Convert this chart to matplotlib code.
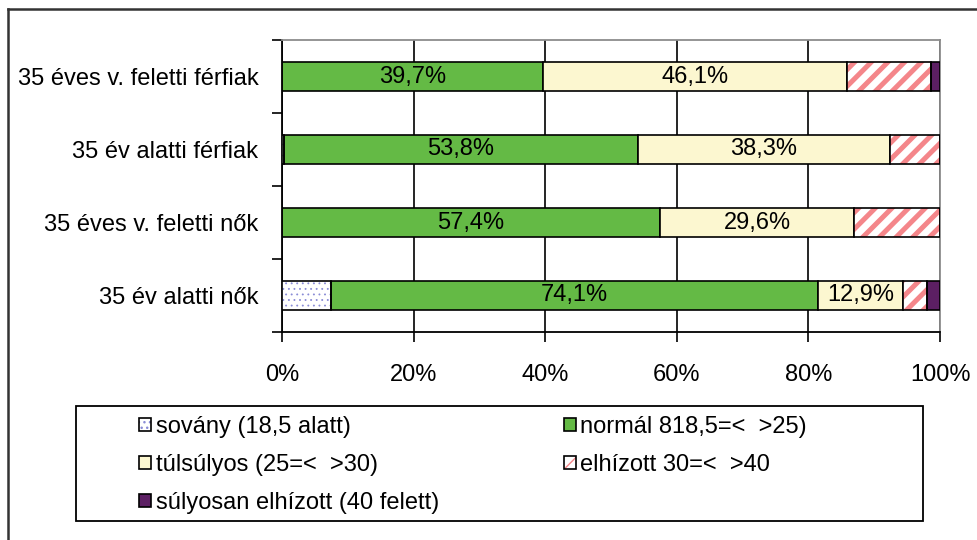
import matplotlib
matplotlib.use('Agg')
import matplotlib.pyplot as plt
from matplotlib import font_manager
from matplotlib.patches import Patch, Rectangle
from matplotlib.lines import Line2D

# Data (rows listed top to bottom as in the chart)
categories = ['35 éves v. feletti férfiak', '35 év alatti férfiak',
              '35 éves v. feletti nők', '35 év alatti nők']
sovany = [0.0, 0.3, 0.0, 7.4]
normal = [39.7, 53.8, 57.4, 74.1]
tulsulyos = [46.1, 38.3, 29.6, 12.9]
elhizott = [12.8, 7.6, 13.0, 3.6]
sulyosan = [1.4, 0.0, 0.0, 2.0]
series_names = ['sovány (18,5 alatt)', 'normál 818,5=<  >25)',
                'túlsúlyos (25=<  >30)', 'elhízott 30=<  >40',
                'súlyosan elhízott (40 felett)']
x_ticks = [0, 20, 40, 60, 80, 100]

GREEN = '#64BA45'
CREAM = '#FCF7D0'
SALMON = '#F4868A'
PURPLE = '#5C1F63'
DOTS = '#8A8CD6'

# pick a narrow sans if there is one, otherwise plain Liberation Sans
names = {f.name for f in font_manager.fontManager.ttflist}
if 'Liberation Sans Narrow' in names:
    FONT, FS = 'Liberation Sans Narrow', 19
else:
    FONT, FS = 'Liberation Sans', 17
plt.rcParams['font.family'] = [FONT, 'DejaVu Sans']


def hatch_lw(patches, w):
    for p in patches:
        if hasattr(p, 'set_hatch_linewidth'):
            p.set_hatch_linewidth(w)


fig = plt.figure(figsize=(9.78, 5.4), dpi=100)
ax = fig.add_axes([282 / 978, 1 - 332 / 540, 658 / 978, 292 / 540])

ypos = list(range(len(categories)))
bh = 0.40
lw = 1.2

# sovány: white with dots
with plt.rc_context({'hatch.linewidth': 0.6}):
    bars = ax.barh(ypos, sovany, height=bh, left=0, color='white',
                   edgecolor=DOTS, hatch='...', linewidth=0, zorder=3)
    hatch_lw(bars, 0.6)
ax.barh(ypos, sovany, height=bh, left=0, fill=False,
        edgecolor='black', linewidth=lw, zorder=4)

left = list(sovany)
ax.barh(ypos, normal, height=bh, left=left, color=GREEN,
        edgecolor='black', linewidth=lw, zorder=3)
for y, l, v in zip(ypos, left, normal):
    ax.text(l + v / 2, y, f'{v:.1f}%'.replace('.', ','), ha='center',
            va='center', fontsize=FS, zorder=5)

left = [a + b for a, b in zip(left, normal)]
ax.barh(ypos, tulsulyos, height=bh, left=left, color=CREAM,
        edgecolor='black', linewidth=lw, zorder=3)
for y, l, v in zip(ypos, left, tulsulyos):
    ax.text(l + v / 2, y, f'{v:.1f}%'.replace('.', ','), ha='center',
            va='center', fontsize=FS, zorder=5)

left = [a + b for a, b in zip(left, tulsulyos)]
with plt.rc_context({'hatch.linewidth': 3.6}):
    bars = ax.barh(ypos, elhizott, height=bh, left=left, color='white',
                   edgecolor=SALMON, hatch='//', linewidth=0, zorder=3)
    hatch_lw(bars, 3.6)
ax.barh(ypos, elhizott, height=bh, left=left, fill=False,
        edgecolor='black', linewidth=lw, zorder=4)

left = [a + b for a, b in zip(left, elhizott)]
ax.barh(ypos, sulyosan, height=bh, left=left, color=PURPLE,
        edgecolor='black', linewidth=lw, zorder=3)

# axes
ax.set_xlim(0, 100)
ax.set_ylim(len(categories) - 0.5, -0.5)
ax.set_xticks(x_ticks)
ax.set_xticklabels([f'{t}%' for t in x_ticks], fontsize=FS)
ax.tick_params(axis='x', direction='out', length=7, width=1.2, pad=16)
ax.set_yticks([i - 0.5 for i in range(len(categories) + 1)])
ax.set_yticklabels([])
ax.set_yticks(ypos, minor=True)
ax.set_yticklabels(categories, minor=True, fontsize=FS)
ax.tick_params(axis='y', which='major', direction='out', length=7, width=1.2)
ax.tick_params(axis='y', which='minor', length=0, pad=17)
ax.xaxis.grid(True, color='black', linewidth=1.2, zorder=1)
ax.set_axisbelow(True)
for s in ('left', 'bottom'):
    ax.spines[s].set_linewidth(1.3)
    ax.spines[s].set_color('black')
for s in ('top', 'right'):
    ax.spines[s].set_linewidth(1.3)
    ax.spines[s].set_color('#8C8C8C')

# legend (column-major order so rows read left to right)
with plt.rc_context({'hatch.linewidth': 0.6}):
    p_sov = Patch(facecolor='white', edgecolor=DOTS, hatch='...', linewidth=0)
    hatch_lw([p_sov], 0.6)
with plt.rc_context({'hatch.linewidth': 2.0}):
    p_elh = Patch(facecolor='white', edgecolor=SALMON, hatch='//', linewidth=0)
    hatch_lw([p_elh], 2.0)
h_sov = (p_sov, Patch(fill=False, edgecolor='black', linewidth=1.2))
h_nor = Patch(facecolor=GREEN, edgecolor='black', linewidth=1.2)
h_tul = Patch(facecolor=CREAM, edgecolor='black', linewidth=1.2)
h_elh = (p_elh, Patch(fill=False, edgecolor='black', linewidth=1.2))
h_sul = Patch(facecolor=PURPLE, edgecolor='black', linewidth=1.2)
handles = [h_sov, h_tul, h_sul, h_nor, h_elh]
labels = [series_names[0], series_names[2], series_names[4],
          series_names[1], series_names[3]]
fig.legend(handles, labels, ncol=2, frameon=False, fontsize=FS,
           loc='upper left', bbox_to_anchor=(139 / 978, 1 - 416 / 540),
           handlelength=0.5, handleheight=0.5, handletextpad=0.2,
           labelspacing=0.68, columnspacing=5.3, borderpad=0, borderaxespad=0)

fig.patches.append(Rectangle((76 / 978, 1 - 521 / 540), 847 / 978, 115 / 540,
                             transform=fig.transFigure, fill=False,
                             edgecolor='black', linewidth=1.3))

# outer frame (left and top edges only are visible)
fig.lines.append(Line2D([8 / 978, 8 / 978], [0, 1 - 9 / 540],
                        transform=fig.transFigure, color='#333333', linewidth=1.8))
fig.lines.append(Line2D([8 / 978, 1], [1 - 9 / 540, 1 - 9 / 540],
                        transform=fig.transFigure, color='#333333', linewidth=1.8))

fig.savefig('out.png', dpi=100)
